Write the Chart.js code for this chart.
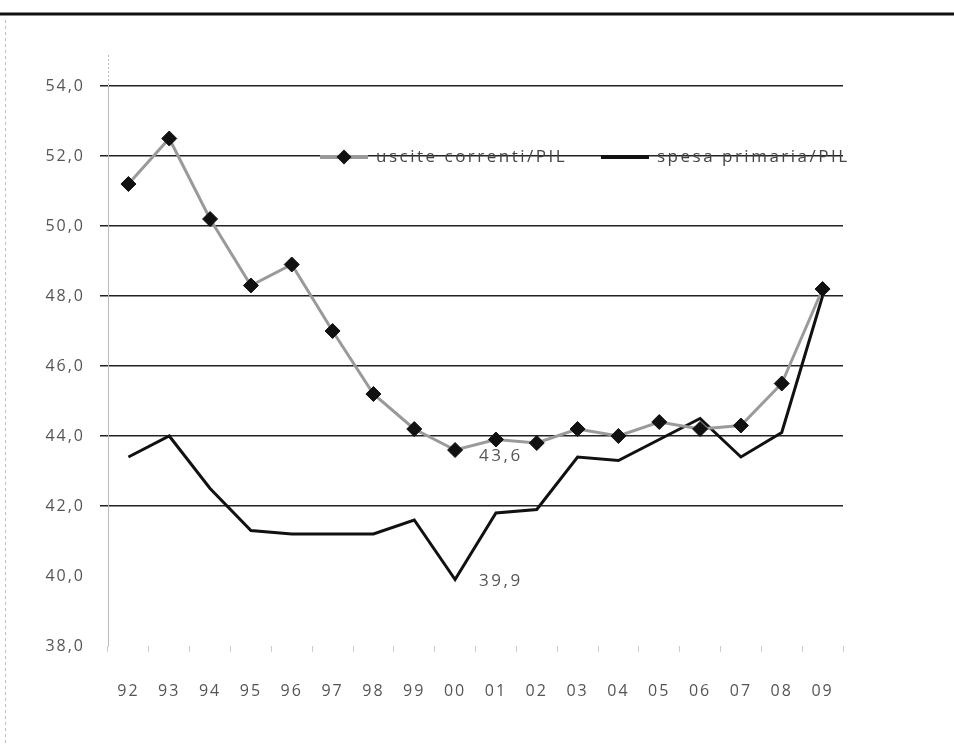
<!DOCTYPE html>
<html>
<head>
<meta charset="utf-8">
<script src="https://cdn.jsdelivr.net/npm/chart.js@4.4.1/dist/chart.umd.min.js"></script>
<style>
  html, body { margin: 0; padding: 0; background: #fff; }
  #wrap { width: 954px; height: 746px; position: relative; }
</style>
</head>
<body>
<div id="wrap"><canvas id="c" width="954" height="746"></canvas></div>
<script>
const years = ['92','93','94','95','96','97','98','99','00','01','02','03','04','05','06','07','08','09'];
const usciteCorrenti = [51.2, 52.5, 50.2, 48.3, 48.9, 47.0, 45.2, 44.2, 43.6, 43.9, 43.8, 44.2, 44.0, 44.4, 44.2, 44.3, 45.5, 48.2];
const spesaPrimaria = [43.4, 44.0, 42.5, 41.3, 41.2, 41.2, 41.2, 41.6, 39.9, 41.8, 41.9, 43.4, 43.3, 43.9, 44.5, 43.4, 44.1, 48.0];
const seriesNames = ['uscite correnti/PIL', 'spesa primaria/PIL'];
const yMin = 38, yMax = 54, yStep = 2;
const labelledPoints = [{ ds: 0, idx: 8, dy: 6 }, { ds: 1, idx: 8, dy: 2 }];

const FONT = '"Open Sans", "Liberation Sans", sans-serif';
const fmt = v => v.toFixed(1).replace('.', ',');

const spacing = {
  id: 'spacing',
  beforeDraw(chart) { chart.ctx.letterSpacing = '2px'; }
};

const decor = {
  id: 'decor',
  beforeDraw(chart) {
    const ctx = chart.ctx;
    ctx.save();
    ctx.strokeStyle = '#111';
    ctx.lineWidth = 3;
    ctx.beginPath(); ctx.moveTo(0, 14); ctx.lineTo(954, 14); ctx.stroke();
    ctx.strokeStyle = '#bbb';
    ctx.lineWidth = 1;
    ctx.setLineDash([3, 3]);
    ctx.beginPath(); ctx.moveTo(5.5, 20); ctx.lineTo(5.5, 746); ctx.stroke();
    ctx.setLineDash([2, 2]);
    const a = chart.chartArea;
    ctx.beginPath(); ctx.moveTo(a.left + 0.5, 55); ctx.lineTo(a.left + 0.5, a.top); ctx.stroke();
    ctx.restore();
  },
  afterDatasetsDraw(chart) {
    const ctx = chart.ctx;
    ctx.save();
    // value labels
    ctx.font = '17px ' + FONT;
    ctx.letterSpacing = '2.5px';
    ctx.fillStyle = '#555';
    ctx.textAlign = 'left';
    ctx.textBaseline = 'middle';
    labelledPoints.forEach(p => {
      const el = chart.getDatasetMeta(p.ds).data[p.idx];
      const v = chart.data.datasets[p.ds].data[p.idx];
      ctx.fillText(fmt(v), el.x + 24, el.y + p.dy);
    });
    // legend inside the plot
    const ly = chart.scales.y.getPixelForValue(52) + 1;
    const items = [
      { x0: 320, x1: 368, tx: 376, ds: 0 },
      { x0: 601, x1: 649, tx: 657, ds: 1 }
    ];
    items.forEach(it => {
      const d = chart.data.datasets[it.ds];
      ctx.strokeStyle = d.borderColor;
      ctx.lineWidth = d.borderWidth + 1;
      ctx.beginPath(); ctx.moveTo(it.x0, ly); ctx.lineTo(it.x1, ly); ctx.stroke();
      if (d.pointRadius > 0) {
        const cx = (it.x0 + it.x1) / 2, r = d.pointRadius;
        ctx.fillStyle = d.pointBackgroundColor;
        ctx.beginPath();
        ctx.moveTo(cx, ly - r); ctx.lineTo(cx + r, ly); ctx.lineTo(cx, ly + r); ctx.lineTo(cx - r, ly);
        ctx.closePath(); ctx.fill();
      }
      ctx.fillStyle = '#444';
      ctx.fillText(d.label, it.tx, ly);
    });
    ctx.restore();
  }
};

new Chart(document.getElementById('c'), {
  type: 'line',
  data: {
    labels: years,
    datasets: [
      {
        label: seriesNames[0],
        data: usciteCorrenti,
        borderColor: '#9a9a9a',
        borderWidth: 3,
        pointStyle: 'rectRot',
        pointRadius: 7.5,
        pointBackgroundColor: '#111',
        pointBorderColor: '#111',
        pointBorderWidth: 1,
        tension: 0,
        order: 1
      },
      {
        label: seriesNames[1],
        data: spesaPrimaria,
        borderColor: '#111',
        borderWidth: 3,
        pointRadius: 0,
        tension: 0,
        order: 2
      }
    ]
  },
  options: {
    responsive: false,
    animation: false,
    devicePixelRatio: 1,
    layout: { padding: { top: 86, left: 0, right: 111, bottom: 0 } },
    plugins: { legend: { display: false }, tooltip: { enabled: false } },
    scales: {
      x: {
        offset: true,
        afterFit(s) { s.height = 100; },
        grid: { drawOnChartArea: false, color: '#ccc', tickLength: 6, offset: true },
        border: { display: false },
        ticks: { color: '#555', padding: 30, font: { size: 16, family: FONT }, maxRotation: 0, autoSkip: false }
      },
      y: {
        min: yMin, max: yMax,
        afterFit(s) { s.width = 108; },
        grid: {
          color: ctx => (ctx.tick && ctx.tick.value > 40 ? '#222' : 'rgba(0,0,0,0)'),
          lineWidth: 1.5,
          tickLength: 8
        },
        border: { color: '#bbb', width: 1 },
        ticks: {
          stepSize: yStep,
          color: '#555',
          padding: 15,
          font: { size: 16, family: FONT },
          callback: v => fmt(v)
        }
      }
    }
  },
  plugins: [spacing, decor]
});
</script>
</body>
</html>
